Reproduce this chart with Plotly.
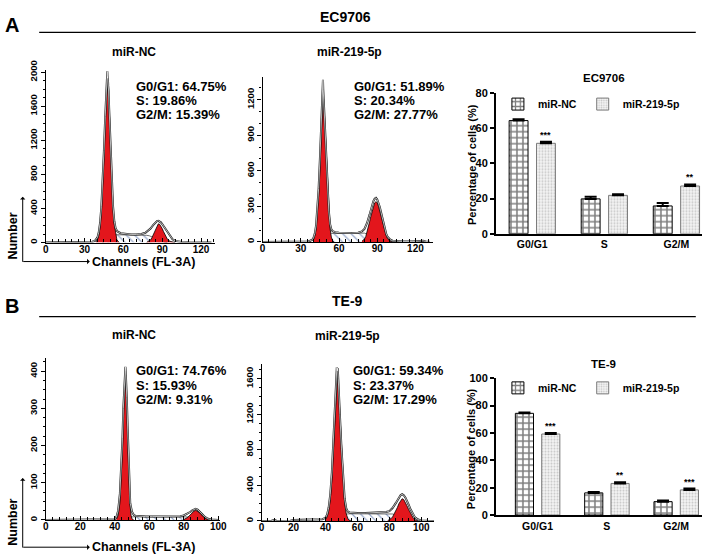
import plotly.graph_objects as go

# ---------------- DATA ----------------
# Flow-cytometry histograms: channel (FL-3A) vs number of events
# Panel A, EC9706, miR-NC
a_nc_env_ch = [0, 25, 32, 36, 38, 40, 41, 42, 43, 44, 45, 46, 46.5, 46.8, 47.0, 47.2, 47.4, 47.6, 47.8, 48.0,
               48.3, 48.6, 49, 49.5, 50, 51, 52, 53, 54, 55, 56, 58, 62, 66, 70, 74, 77, 79, 81, 83,
               85, 86, 87, 88, 89, 90, 91, 92, 94, 96, 98, 100, 102, 105, 110, 120, 128]
a_nc_env_n = [0, 2, 5, 10, 20, 60, 120, 230, 420, 700, 1080, 1480, 1700, 1800, 1870, 1990, 1910, 2010, 1930, 1950,
              1840, 1780, 1580, 1350, 1120, 740, 430, 250, 170, 140, 125, 110, 100, 95, 95, 100, 115, 135, 165, 205,
              240, 252, 256, 250, 238, 218, 195, 170, 120, 70, 38, 20, 12, 8, 5, 4, 2]
a_nc_g1_ch = [39, 40, 41, 42, 43, 44, 45, 46, 47, 47.5, 48, 49, 50, 51, 52, 53, 54, 55, 56, 57]
a_nc_g1_n = [10, 35, 80, 180, 360, 640, 1000, 1400, 1740, 1870, 1850, 1620, 1180, 760, 430, 210, 90, 35, 12, 0]
a_nc_s_ch = [44, 46, 48, 50, 52, 54, 58, 62, 66, 70, 74, 78, 80, 82, 84, 86, 88, 90, 92, 94]
a_nc_s_n = [0, 20, 45, 70, 85, 92, 92, 90, 88, 88, 88, 85, 80, 70, 55, 40, 25, 12, 4, 0]
a_nc_g2_ch = [78, 80, 81, 82, 83, 84, 85, 86, 87, 88, 89, 90, 91, 92, 93, 94, 96, 98, 100]
a_nc_g2_n = [3, 15, 30, 55, 90, 130, 170, 205, 220, 215, 195, 165, 130, 95, 65, 40, 15, 4, 0]

# Panel A, EC9706, miR-219-5p
a_mir_env_ch = [0, 30, 35, 37, 39, 40, 41, 42, 43, 44, 45, 46, 46.5, 46.8, 47.0, 47.2, 47.4, 47.6, 47.9, 48.3,
                48.7, 49, 50, 51, 52, 53, 54, 55, 57, 60, 65, 70, 75, 78, 80, 82, 84, 85, 86, 87,
                88, 89, 90, 91, 92, 93, 94, 95, 96, 97, 98, 100, 102, 105, 110, 118, 122, 124, 126, 128, 131]
a_mir_env_n = [0, 1, 3, 8, 18, 35, 70, 140, 260, 450, 700, 1000, 1180, 1250, 1330, 1280, 1370, 1290, 1220, 1150,
               1080, 960, 700, 450, 260, 150, 105, 90, 82, 78, 75, 75, 78, 88, 110, 160, 230, 275, 315, 345,
               365, 372, 358, 330, 295, 250, 200, 150, 105, 70, 45, 20, 10, 5, 3, 3, 6, 11, 9, 4, 1]
a_mir_g1_ch = [40, 41, 42, 43, 44, 45, 46, 47, 47.5, 48, 49, 50, 51, 52, 53, 54, 55, 56]
a_mir_g1_n = [20, 50, 110, 220, 390, 620, 900, 1150, 1240, 1200, 980, 720, 460, 250, 110, 40, 10, 0]
a_mir_s_ch = [44, 46, 48, 50, 52, 54, 58, 62, 66, 70, 74, 78, 80, 82, 84, 86, 88, 90, 92, 94]
a_mir_s_n = [0, 15, 35, 52, 65, 72, 73, 72, 72, 72, 74, 76, 74, 65, 52, 38, 25, 14, 6, 0]
a_mir_g2_ch = [78, 80, 81, 82, 83, 84, 85, 86, 87, 88, 89, 90, 91, 92, 93, 94, 95, 96, 97, 98, 99, 100, 102]
a_mir_g2_n = [5, 25, 45, 80, 120, 170, 215, 260, 300, 330, 340, 330, 300, 260, 215, 170, 125, 85, 55, 30, 15, 6, 0]

# Panel B, TE-9, miR-NC
b_nc_env_ch = [0, 38, 40, 41, 42, 43, 44, 44.5, 45, 45.5, 45.8, 46.0, 46.2, 46.4, 46.7, 47, 47.5, 48, 48.5, 49,
               50, 51, 52, 54, 58, 62, 66, 70, 74, 78, 80, 82, 84, 85, 86, 87, 88, 89, 90, 91,
               92, 93, 94, 96, 100]
b_nc_env_n = [0, 1, 2, 8, 25, 70, 150, 220, 300, 370, 395, 380, 412, 398, 370, 330, 250, 160, 90, 45,
              22, 14, 11, 10, 9, 9, 9, 9, 9, 10, 12, 16, 22, 26, 29, 30, 28, 24, 19, 14,
              9, 5, 3, 1, 0]
b_nc_g1_ch = [41, 42, 43, 44, 44.5, 45, 45.5, 46, 46.5, 47, 47.5, 48, 48.5, 49, 49.5, 50, 51]
b_nc_g1_n = [2, 12, 45, 120, 190, 270, 340, 385, 390, 330, 240, 150, 80, 35, 12, 3, 0]
b_nc_s_ch = [43, 45, 47, 49, 52, 60, 70, 78, 82, 85, 88, 91, 94]
b_nc_s_n = [0, 3, 6, 8, 8.5, 8.5, 8.5, 8.5, 8, 6, 4, 2, 0]
b_nc_g2_ch = [80, 81, 82, 83, 84, 85, 86, 87, 88, 89, 90, 91, 92, 93, 94, 95]
b_nc_g2_n = [1, 3, 6, 10, 15, 20, 24, 26, 24, 20, 15, 10, 6, 3, 1, 0]

# Panel B, TE-9, miR-219-5p
b_mir_env_ch = [0, 6, 8, 9.5, 18, 20, 25, 30, 35, 38, 40, 41, 42, 43, 44, 45, 46, 46.5, 46.8, 47.1,
                47.4, 47.7, 48, 48.5, 49, 50, 51, 52, 53, 54, 55, 57, 60, 65, 70, 75, 78, 80, 82, 84,
                85, 86, 87, 88, 89, 90, 91, 92, 93, 94, 95, 96, 98, 100, 104, 108]
b_mir_env_n = [0, 0, 12, 0, 3, 10, 12, 12, 15, 20, 35, 70, 150, 300, 550, 900, 1300, 1550, 1650, 1730,
               1690, 1720, 1600, 1450, 1200, 820, 480, 250, 140, 105, 95, 90, 88, 88, 90, 95, 100, 110, 145, 200,
               235, 265, 290, 300, 290, 265, 230, 185, 140, 100, 65, 40, 15, 6, 2, 0]
b_mir_g1_ch = [40, 41, 42, 43, 44, 45, 46, 47, 47.5, 48, 49, 50, 51, 52, 53, 54, 55, 56]
b_mir_g1_n = [15, 45, 110, 240, 460, 780, 1150, 1500, 1630, 1560, 1200, 780, 430, 200, 80, 25, 5, 0]
b_mir_s_ch = [43, 45, 47, 49, 51, 53, 56, 60, 66, 72, 78, 80, 82, 84, 86, 88, 90, 92, 94, 96]
b_mir_s_n = [0, 15, 35, 55, 70, 78, 80, 80, 80, 82, 86, 85, 78, 65, 50, 35, 22, 12, 5, 0]
b_mir_g2_ch = [79, 80, 81, 82, 83, 84, 85, 86, 87, 88, 89, 90, 91, 92, 93, 94, 95, 96, 97, 98]
b_mir_g2_n = [5, 12, 25, 45, 75, 110, 150, 195, 230, 250, 240, 210, 170, 130, 90, 55, 30, 14, 5, 0]

# Cell-cycle percentages printed on the histograms
a_nc_pct = ["G0/G1: 64.75%", "S: 19.86%", "G2/M: 15.39%"]
a_mir_pct = ["G0/G1: 51.89%", "S: 20.34%", "G2/M: 27.77%"]
b_nc_pct = ["G0/G1: 74.76%", "S: 15.93%", "G2/M: 9.31%"]
b_mir_pct = ["G0/G1: 59.34%", "S: 23.37%", "G2/M: 17.29%"]

# Bar charts
phases = ["G0/G1", "S", "G2/M"]
groups = ["miR-NC", "miR-219-5p"]
ec_nc = [64.2, 19.8, 15.8]
ec_nc_sem = [0.7, 1.2, 1.6]
ec_mir = [51.3, 21.8, 27.1]
ec_mir_sem = [0.9, 0.7, 0.9]
ec_sig = ["***", "", "**"]
te_nc = [74.3, 16.2, 9.8]
te_nc_sem = [0.6, 0.6, 0.8]
te_mir = [59.2, 23.1, 18.4]
te_mir_sem = [0.7, 0.9, 1.0]
te_sig = ["***", "**", "***"]

# ---------------- FIGURE ----------------
W, H = 709, 560
FONT = "Liberation Sans"
RED = "#e3161c"
HATCH = "#2d4f96"


def dom_x(a, b):
    return [a / W, b / W]


def dom_y(top, bottom):
    return [1 - bottom / H, 1 - top / H]


fig = go.Figure()
annots = []
shapes = []


def text(x, y, s, size, anchor="center", angle=0, weight="bold"):
    annots.append(dict(x=x / W, y=1 - y / H, xref="paper", yref="paper", text=s, showarrow=False,
                       xanchor=anchor, yanchor="middle", textangle=angle,
                       font=dict(family=FONT, size=size, color="black", weight=weight)))


hists = [
    dict(env=(a_nc_env_ch, a_nc_env_n), g1=(a_nc_g1_ch, a_nc_g1_n), s=(a_nc_s_ch, a_nc_s_n),
         g2=(a_nc_g2_ch, a_nc_g2_n), pct=a_nc_pct,
         x0=43.3, xs=1.313, xmax=131, xd=30, xm=5, y0=240, ys=0.0875, ymax=2030, yd=400, ym=100, ty=79.3),
    dict(env=(a_mir_env_ch, a_mir_env_n), g1=(a_mir_g1_ch, a_mir_g1_n), s=(a_mir_s_ch, a_mir_s_n),
         g2=(a_mir_g2_ch, a_mir_g2_n), pct=a_mir_pct,
         x0=263.3, xs=1.292, xmax=134, xd=30, xm=5, y0=239.3, ys=0.12167, ymax=1390, yd=300, ym=100, ty=79.3),
    dict(env=(b_nc_env_ch, b_nc_env_n), g1=(b_nc_g1_ch, b_nc_g1_n), s=(b_nc_s_ch, b_nc_s_n),
         g2=(b_nc_g2_ch, b_nc_g2_n), pct=b_nc_pct,
         x0=43.3, xs=1.75, xmax=101, xd=20, xm=4, y0=525, ys=0.382, ymax=436, yd=100, ym=25, ty=371.7),
    dict(env=(b_mir_env_ch, b_mir_env_n), g1=(b_mir_g1_ch, b_mir_g1_n), s=(b_mir_s_ch, b_mir_s_n),
         g2=(b_mir_g2_ch, b_mir_g2_n), pct=b_mir_pct,
         x0=262.3, xs=1.62, xmax=108, xd=20, xm=4, y0=526, ys=0.09125, ymax=1765, yd=400, ym=100, ty=371.7),
]

layout_axes = {}
for i, h in enumerate(hists, start=1):
    xa = "x" if i == 1 else f"x{i}"
    ya = "y" if i == 1 else f"y{i}"
    # S phase (hatched)
    fig.add_trace(go.Scatter(x=h["s"][0], y=h["s"][1], mode="lines", fill="tozeroy",
                             fillpattern=dict(shape="\\", fgcolor=HATCH, bgcolor="white", size=6, solidity=0.2),
                             line=dict(color="#333333", width=0.7), xaxis=xa, yaxis=ya, showlegend=False,
                             hoverinfo="skip"))
    for comp in ("g1", "g2"):
        fig.add_trace(go.Scatter(x=h[comp][0], y=h[comp][1], mode="lines", fill="tozeroy", fillcolor=RED,
                                 line=dict(color="black", width=0.8), xaxis=xa, yaxis=ya, showlegend=False,
                                 hoverinfo="skip"))
    fig.add_trace(go.Scatter(x=h["env"][0], y=h["env"][1], mode="lines",
                             line=dict(color="#1a1a1a", width=2.0), xaxis=xa, yaxis=ya, showlegend=False,
                             hoverinfo="skip"))
    fig.add_trace(go.Scatter(x=h["env"][0], y=h["env"][1], mode="lines",
                             line=dict(color="white", width=0.7), xaxis=xa, yaxis=ya, showlegend=False,
                             hoverinfo="skip"))
    key = "" if i == 1 else str(i)
    layout_axes["xaxis" + key] = dict(
        domain=dom_x(h["x0"], h["x0"] + h["xmax"] * h["xs"]), range=[0, h["xmax"]], anchor=ya,
        showline=True, linecolor="black", linewidth=1.2, ticks="inside", ticklen=4, tickwidth=1,
        tickcolor="black", tick0=0, dtick=h["xd"], ticklabelstandoff=-3,
        minor=dict(dtick=h["xm"], tick0=0, ticks="inside", ticklen=3, tickcolor="black", tickwidth=1),
        tickfont=dict(family=FONT, size=10, color="black", weight="bold"),
        showgrid=False, zeroline=False, fixedrange=True)
    layout_axes["yaxis" + key] = dict(
        domain=dom_y(h["y0"] - h["ymax"] * h["ys"], h["y0"]), range=[0, h["ymax"]], anchor=xa,
        showline=True, linecolor="black", linewidth=1.2, ticks="outside", ticklen=4, tickwidth=1,
        tickcolor="black", tick0=0, dtick=h["yd"], tickangle=-90,
        minor=dict(dtick=h["ym"], tick0=0, ticks="outside", ticklen=2, tickcolor="black", tickwidth=1),
        tickfont=dict(family=FONT, size=9.5, color="black", weight="bold"),
        showgrid=False, zeroline=False, fixedrange=True)
    for k, s in enumerate(h["pct"]):
        text(h["x0"] + 90 if h["x0"] < 100 else h["x0"] + 91, h["ty"] + 14.8 * k, s, 13, anchor="left")

# ---------------- BAR CHARTS ----------------
bars = [
    dict(ax="5", nc=ec_nc, nce=ec_nc_sem, mir=ec_mir, mire=ec_mir_sem, sig=ec_sig, legs=("legend", "legend2"),
         xd=(500, 709), xr=[-0.503, 2.356], yd=(86, 231), ymax=80, title="EC9706", ty=71, ytit=160, legy=97.7),
    dict(ax="6", nc=te_nc, nce=te_nc_sem, mir=te_mir, mire=te_mir_sem, sig=te_sig, legs=("legend3", "legend4"),
         xd=(500, 709), xr=[-0.6, 2.373], yd=(379.3, 520), ymax=100, title="TE-9", ty=365, ytit=452, legy=389.3),
]
NC_OFF, MIR_OFF, BW = -0.32, 0.06, 0.262
legend_layout = {}
for b in bars:
    xa, ya = "x" + b["ax"], "y" + b["ax"]
    fig.add_trace(go.Bar(
        x=phases, y=b["nc"], name=groups[0], offset=NC_OFF, width=BW, xaxis=xa, yaxis=ya, legend=b["legs"][0],
        marker=dict(color="white", line=dict(color="black", width=1),
                    pattern=dict(shape="+", fgcolor="black", bgcolor="white", size=6, solidity=0.45)),
        error_y=dict(type="data", array=b["nce"], arrayminus=[0] * len(phases), symmetric=False,
                     color="black", thickness=2, width=6), hoverinfo="skip"))
    fig.add_trace(go.Bar(
        x=phases, y=b["mir"], name=groups[1], offset=MIR_OFF, width=BW, xaxis=xa, yaxis=ya, legend=b["legs"][1],
        marker=dict(color="white", line=dict(color="#7a7a7a", width=1),
                    pattern=dict(shape=".", fgcolor="#9a9a9a", bgcolor="#f4f4f4", size=3, solidity=0.35)),
        error_y=dict(type="data", array=b["mire"], arrayminus=[0] * len(phases), symmetric=False,
                     color="black", thickness=2, width=6), hoverinfo="skip"))
    for k, s in enumerate(b["sig"]):
        if s:
            annots.append(dict(x=k + MIR_OFF + BW / 2, y=b["mir"][k] + b["mire"][k], xref=xa, yref=ya,
                               text=s, showarrow=False, xanchor="center", yanchor="bottom", yshift=0,
                               font=dict(family=FONT, size=9, color="black", weight="bold")))
    layout_axes["xaxis" + b["ax"]] = dict(
        domain=dom_x(*b["xd"]), range=b["xr"], anchor=ya, type="category",
        showline=True, linecolor="black", linewidth=1.8, ticks="",
        tickfont=dict(family=FONT, size=10.5, color="black", weight="bold"),
        showgrid=False, zeroline=False, fixedrange=True)
    layout_axes["yaxis" + b["ax"]] = dict(
        domain=dom_y(*b["yd"]), range=[0, b["ymax"]], anchor=xa, dtick=20, tick0=0,
        showline=True, linecolor="black", linewidth=1.8, ticks="outside", ticklen=4, tickwidth=1.6,
        tickcolor="black", tickfont=dict(family=FONT, size=11, color="black", weight="bold"),
        showgrid=False, zeroline=False, fixedrange=True)
    text(sum(b["xd"]) / 2 + 5, b["ty"], b["title"], 11.5)
    text(475, b["ytit"], "Percentage of cells (%)", 11, angle=-90)
    for j, (lg, lx) in enumerate(zip(b["legs"], (502, 588))):
        legend_layout[lg] = dict(x=lx / W, y=1 - b["legy"] / H, xanchor="left", yanchor="middle",
                                 bgcolor="rgba(0,0,0,0)", borderwidth=0, orientation="h",
                                 font=dict(family=FONT, size=10.5, color="black", weight="bold"),
                                 itemclick=False, itemdoubleclick=False)

# ---------------- TEXT / DECORATION ----------------
text(9, 16.5, "A", 20)
text(347.5, 8.5, "EC9706", 14)
text(9, 305, "B", 20)
text(349, 300, "TE-9", 14)
for yline in (24, 316):
    shapes.append(dict(type="line", xref="paper", yref="paper", x0=36.7 / W, x1=702.7 / W,
                       y0=1 - yline / H, y1=1 - yline / H, line=dict(color="black", width=1.3)))

text(132.5, 44, "miR-NC", 12)
text(351, 44.5, "miR-219-5p", 12)
text(132.5, 335, "miR-NC", 12)
text(349, 336, "miR-219-5p", 12)

for ybase, ytop, ynum in ((259.5, 193, 233), (553, 482, 527)):
    text(88.5, ybase, "Channels (FL-3A)", 12.5, anchor="left")
    text(10, ynum, "Number", 12.5, angle=-90)
    annots.append(dict(x=88 / W, y=1 - ybase / H, xref="paper", yref="paper", ax=-68, ay=0, text="",
                       showarrow=True, arrowhead=1, arrowsize=0.9, arrowwidth=1, arrowcolor="black",
                       standoff=0, startstandoff=0))
    annots.append(dict(x=20 / W, y=1 - ytop / H, xref="paper", yref="paper", ax=0, ay=ybase - ytop, text="",
                       showarrow=True, arrowhead=1, arrowsize=0.9, arrowwidth=1, arrowcolor="black",
                       standoff=0, startstandoff=0))

fig.update_layout(
    width=W, height=H, margin=dict(l=0, r=0, t=0, b=0),
    paper_bgcolor="white", plot_bgcolor="white",
    barmode="overlay", annotations=annots, shapes=shapes,
    font=dict(family=FONT, color="black"),
    **layout_axes, **legend_layout,
)

fig.write_html("out.html", config={"responsive": False, "displayModeBar": False},
               post_script="document.body.style.margin='0';document.body.style.overflow='hidden';")
